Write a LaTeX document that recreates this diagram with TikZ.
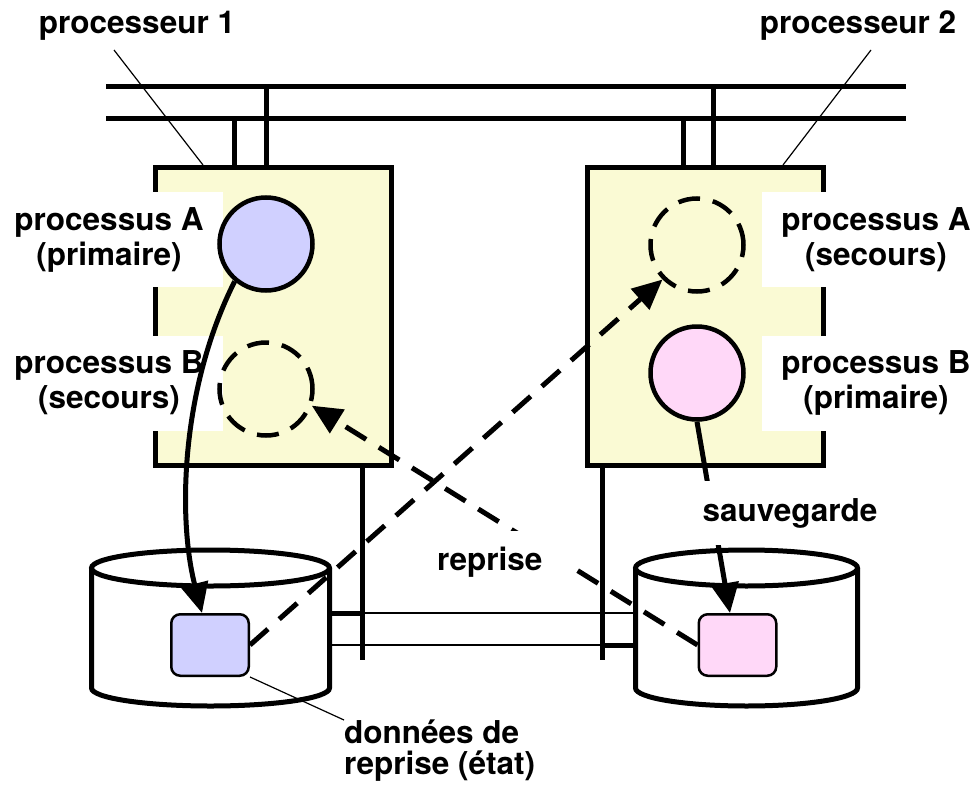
\documentclass[tikz,border=0pt]{standalone}
\usepackage{fontspec}
\setmainfont{TeX Gyre Heros}
\usetikzlibrary{arrows.meta,calc}
\definecolor{boxyellow}{RGB}{250,250,212}
\definecolor{lavender}{RGB}{208,208,255}
\definecolor{pinkfill}{RGB}{255,216,248}
\begin{document}
\begin{tikzpicture}[x=1pt,y=-1pt,
  txt/.style={font=\fontsize{31.5}{35}\selectfont\bfseries, align=center},
  procbox/.style={draw, line width=5pt, fill=boxyellow, minimum width=236pt, minimum height=298pt, inner sep=0pt},
  proc/.style={circle, draw, line width=4.5pt, minimum size=93pt, inner sep=0pt},
  ghost/.style={proc, dash pattern=on 22pt off 13pt},
  mask/.style={txt, fill=white, minimum width=228pt, minimum height=95pt, inner sep=0pt},
  heavy/.style={line width=5pt},
  link/.style={line width=2pt},
  leader/.style={line width=1.2pt},
  datum/.style={draw, line width=2.5pt, rounded corners=9pt, minimum width=77.5pt, minimum height=61.5pt, inner sep=0pt},
  tip/.style={-{Triangle[length=30pt,width=27pt]}},
  dashedarrow/.style={heavy, tip, dash pattern=on 24pt off 15pt},
  cyl/.style={line width=5pt, fill=white},
]
\fill[white] (0,0) rectangle (975,787);
\useasboundingbox (0,0) rectangle (975,787);

% leader lines for processors
\coordinate (l1s) at (114,50); \coordinate (l1e) at (203,165);
\coordinate (l2s) at (871,50); \coordinate (l2e) at (783,165);
\draw[leader] (l1s) -- (l1e);
\draw[leader] (l2s) -- (l2e);

% bus
\coordinate (busA1) at (106,86); \coordinate (busA2) at (906,86);
\coordinate (busB1) at (106,118); \coordinate (busB2) at (906,118);
\draw[heavy] (busA1) -- (busA2);
\draw[heavy] (busB1) -- (busB2);

% processor boxes
\node[procbox] (box1) at (273.5,316.5) {};
\node[procbox] (box2) at (705.5,316.5) {};

% stubs to the bus
\coordinate (s1a) at (234,118); \coordinate (s1b) at (266,86);
\coordinate (s2a) at (683,118); \coordinate (s2b) at (713,86);
\draw[heavy] (s1a) -- (s1a |- box1.north);
\draw[heavy] (s1b) -- (s1b |- box1.north);
\draw[heavy] (s2a) -- (s2a |- box2.north);
\draw[heavy] (s2b) -- (s2b |- box2.north);

% vertical links down to the disks
\coordinate (v1) at (362,660);
\coordinate (v2) at (602,660);
\draw[heavy] (v1 |- box1.south) -- (v1);
\draw[heavy] (v2 |- box2.south) -- (v2);

% process labels (white masks)
\node[mask] (lA1) at (109,239.5) {processus A\\(primaire)};
\node[mask] (lB1) at (109,383) {processus B\\(secours)};
\node[mask] (lA2) at (876,239.5) {processus A\\(secours)};
\node[mask] (lB2) at (876,383) {processus B\\(primaire)};

% processes
\node[proc, fill=lavender] (pA1) at (266,244) {};
\node[ghost] (pB1) at (266,389) {};
\node[ghost] (pA2) at (697,245) {};
\node[proc, fill=pinkfill] (pB2) at (697,373) {};

% disks
\draw[cyl] (91.5,568) -- (91.5,688) arc[start angle=180, end angle=360, x radius=119pt, y radius=18pt] -- (329.5,568);
\draw[cyl] (210.5,568) ellipse[x radius=119pt, y radius=18pt];
\draw[cyl] (635.5,568) -- (635.5,688) arc[start angle=180, end angle=360, x radius=111pt, y radius=18pt] -- (857.5,568);
\draw[cyl] (746.5,568) ellipse[x radius=111pt, y radius=18pt];

% disk links
\coordinate (k1) at (329.5,613);
\coordinate (k2) at (329.5,645);
\coordinate (k3) at (635.5,613);
\coordinate (k4) at (635.5,645);
\draw[link] (k1) -- (k3);
\draw[link] (k2) -- (k4);
\draw[heavy] (k1) -- (k1 -| v1);
\draw[heavy] (k4) -- (k4 -| v2);

% saved data
\node[datum, fill=lavender] (d1) at (210,645) {};
\node[datum, fill=pinkfill] (d2) at (737.5,645) {};

% arrows
\draw[heavy, tip] (pA1.230) .. controls (180,390) and (178,520) .. ([xshift=-8pt]d1.north);
\draw[dashedarrow] (d1.east) -- (pA2.225);
\draw[dashedarrow] (d2.west) -- (pB1.340);
\draw[heavy, tip] (pB2.south) -- ([xshift=-7.5pt]d2.north);

% arrow labels
\node[txt, fill=white, inner xsep=3pt, inner ysep=17pt] (sv) at (790,513) {sauvegarde};
\node[txt, fill=white, inner xsep=3pt, inner ysep=16pt, anchor=west] (rp) at (434,562) {reprise\hspace*{26pt}};

% data label
\node[txt, align=left, font=\fontsize{31.5}{31}\selectfont\bfseries, inner sep=0pt, anchor=north west] (dl) at (344,720) {données de\\reprise (état)};
\draw[leader] (d1.south east) -- (dl.north west);

% processor titles
\node[txt] (t1) at (137,25.3) {processeur 1};
\node[txt] (t2) at (858,25.3) {processeur 2};
\end{tikzpicture}
\end{document}
